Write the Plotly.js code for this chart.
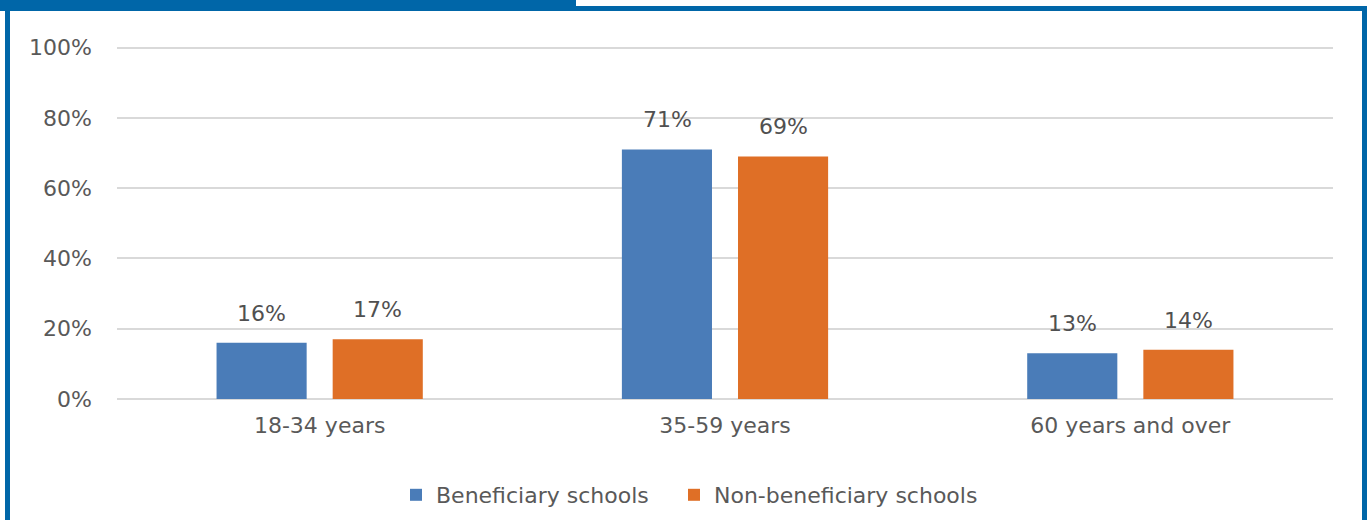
<!DOCTYPE html>
<html>
<head>
<meta charset="utf-8">
<script src="https://cdn.plot.ly/plotly-3.0.1.min.js"></script>
<style>
  html, body { margin: 0; padding: 0; background: #ffffff; overflow: hidden; }
  #chart { width: 1369px; height: 520px; }
</style>
</head>
<body>
<div id="chart"></div>
<script>
const categories = ["18-34 years", "35-59 years", "60 years and over"];
const seriesNames = ["Beneficiary schools", "Non-beneficiary schools"];
const beneficiary = [16, 71, 13];
const nonBeneficiary = [17, 69, 14];
const yTickVals = [0, 20, 40, 60, 80, 100];
const yTickText = ["0%", "20%", "40%", "60%", "80%", "100%"];

const colors = ["#4A7CB8", "#DF6F26"];
const FONT = "'DejaVu Sans', sans-serif";
const labelColor = "#505050";
const tickColor = "#595959";

const seriesValues = [beneficiary, nonBeneficiary];
const legendIds = ["legend", "legend2"];

const traces = seriesValues.map((vals, i) => ({
  type: "bar",
  name: seriesNames[i],
  x: categories,
  y: vals,
  marker: { color: colors[i] },
  legend: legendIds[i],
  hoverinfo: "skip"
}));

const annotations = [];
seriesValues.forEach((vals, i) => {
  vals.forEach((v, j) => {
    annotations.push({
      x: categories[j],
      y: v,
      xref: "x",
      yref: "y",
      text: v + "%",
      showarrow: false,
      xanchor: "center",
      yanchor: "bottom",
      xshift: i === 0 ? -58 : 58,
      yshift: 15,
      font: { family: FONT, size: 22, color: labelColor }
    });
  });
});

const blue = "#0066A8";
const pl = 117, pr = 1369 - 36, pt = 44, pb = 520 - 121;
const pw = pr - pl, ph = pb - pt;
const px = (x) => (x - pl) / pw;
const py = (y) => (pb - y) / ph;

const legendBase = {
  orientation: "h",
  xanchor: "left",
  y: py(495),
  yanchor: "middle",
  font: { family: FONT, size: 22, color: tickColor },
  itemwidth: 30,
  bgcolor: "rgba(0,0,0,0)"
};

const layout = {
  width: 1369,
  height: 520,
  margin: { l: 117, r: 36, t: 44, b: 121, autoexpand: false },
  paper_bgcolor: "#ffffff",
  plot_bgcolor: "#ffffff",
  barmode: "group",
  bargap: 0.427,
  bargroupgap: 0.224,
  showlegend: true,
  legend: Object.assign({}, legendBase, { x: px(396) }),
  legend2: Object.assign({}, legendBase, { x: px(674) }),
  xaxis: {
    type: "category",
    tickfont: { family: FONT, size: 22, color: tickColor },
    showgrid: false,
    showline: false,
    ticks: "",
    ticklabelstandoff: 11,
    automargin: false
  },
  yaxis: {
    range: [0, 101],
    tickvals: yTickVals,
    ticktext: yTickText,
    tickfont: { family: FONT, size: 22, color: tickColor },
    showgrid: true,
    gridcolor: "#D9D9D9",
    gridwidth: 2,
    zeroline: true,
    zerolinecolor: "#D9D9D9",
    zerolinewidth: 2,
    showline: false,
    ticks: "",
    ticklabelstandoff: 24,
    automargin: false
  },
  annotations: annotations,
  shapes: [
    { type: "rect", xref: "paper", yref: "paper", layer: "above",
      x0: px(0), x1: px(576), y0: py(0), y1: py(11),
      fillcolor: blue, line: { width: 0 } },
    { type: "rect", xref: "paper", yref: "paper", layer: "above",
      x0: px(576), x1: px(1367), y0: py(6), y1: py(11),
      fillcolor: blue, line: { width: 0 } },
    { type: "rect", xref: "paper", yref: "paper", layer: "above",
      x0: px(5), x1: px(10), y0: py(6), y1: py(520),
      fillcolor: blue, line: { width: 0 } },
    { type: "rect", xref: "paper", yref: "paper", layer: "above",
      x0: px(1362), x1: px(1367), y0: py(6), y1: py(520),
      fillcolor: blue, line: { width: 0 } }
  ]
};

Plotly.newPlot("chart", traces, layout, { displayModeBar: false, staticPlot: true });
</script>
</body>
</html>
